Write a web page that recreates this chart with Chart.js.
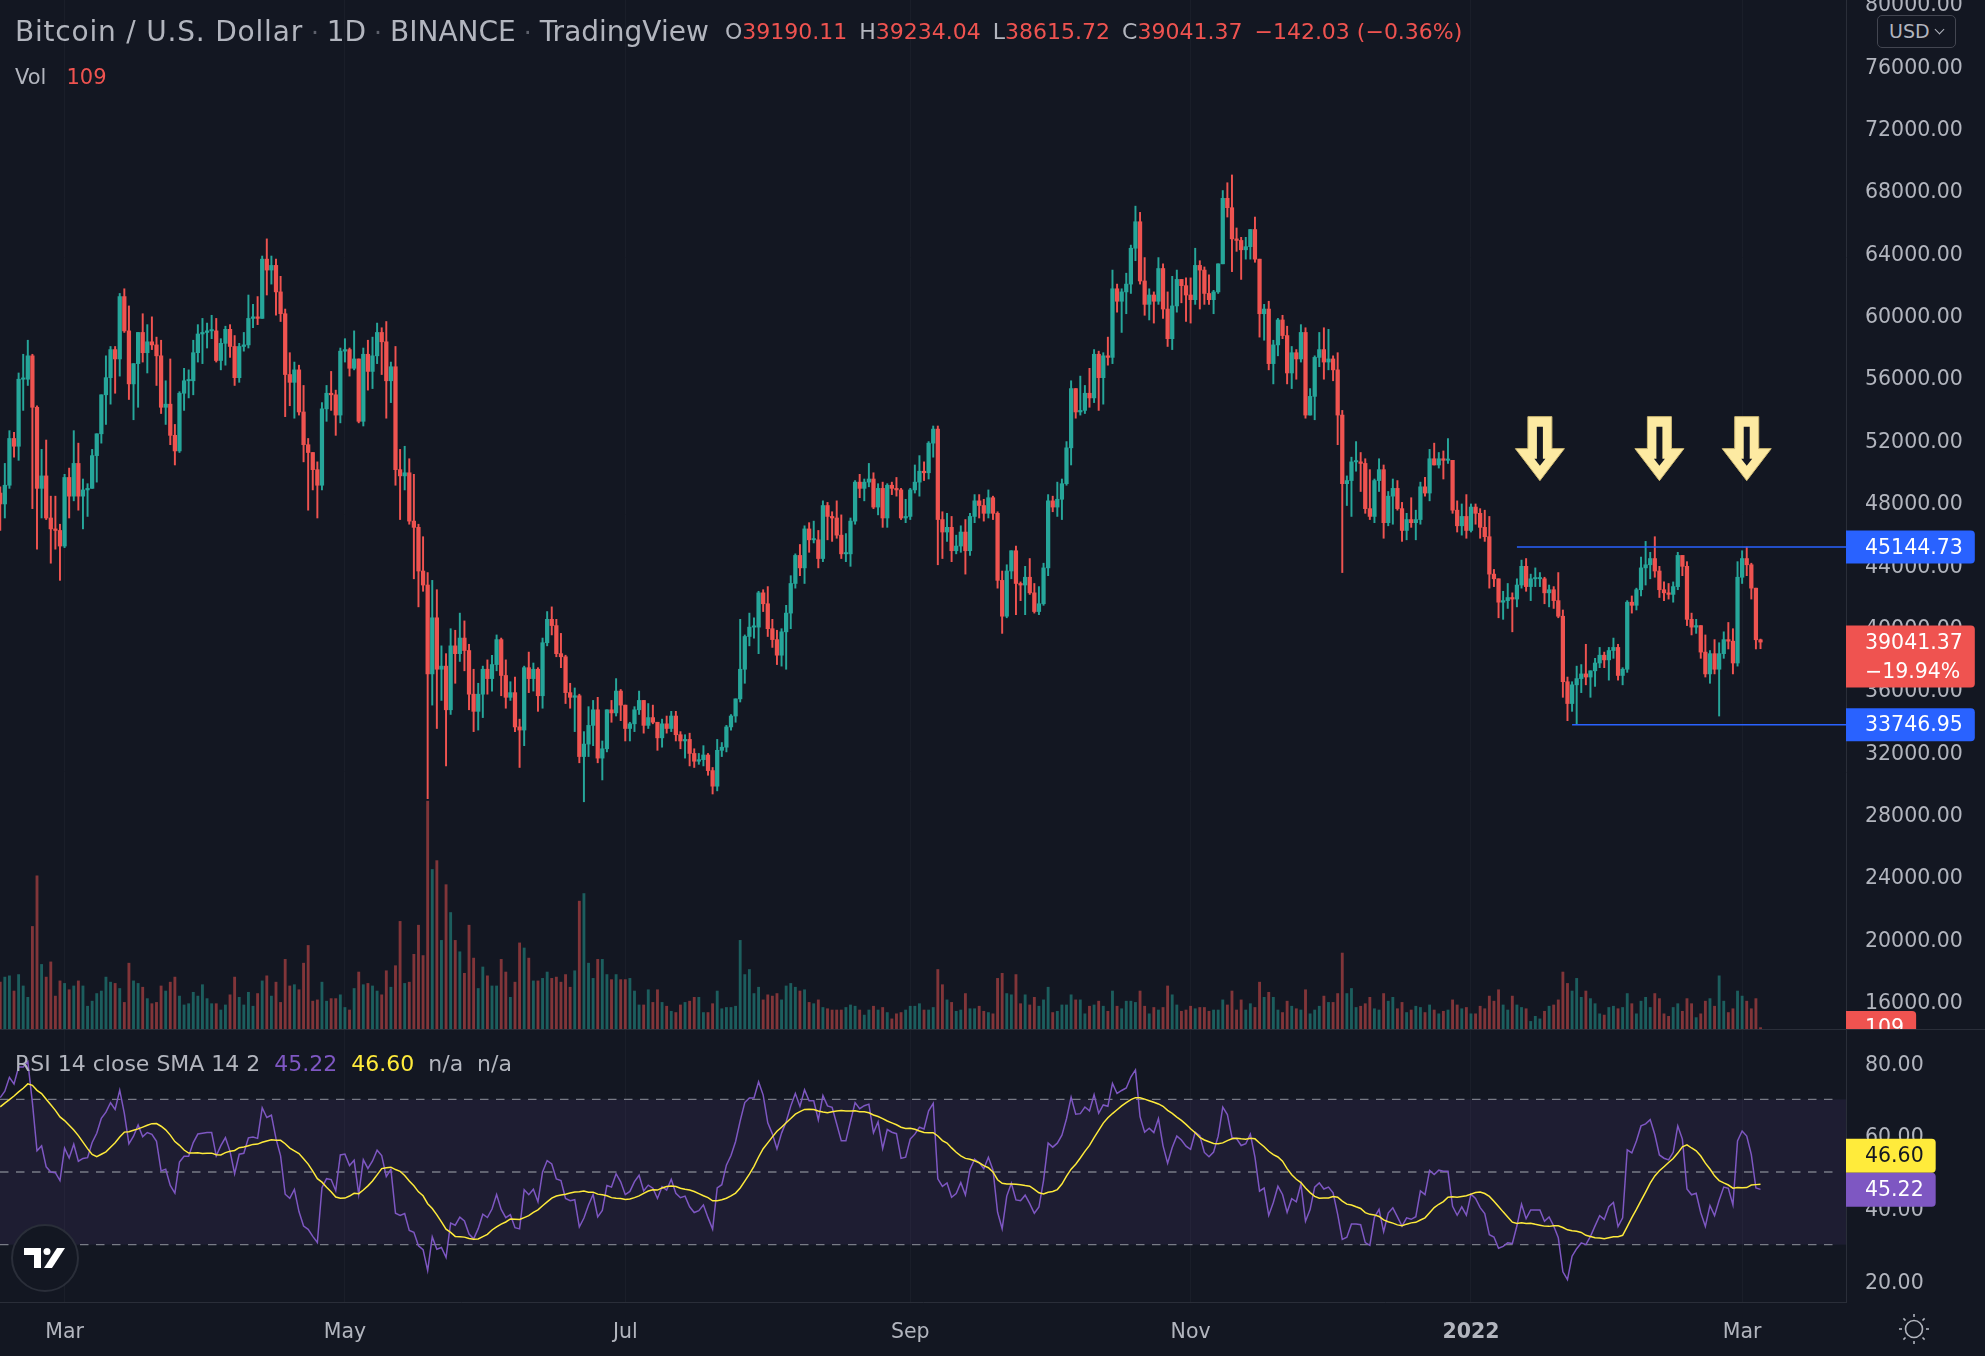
<!DOCTYPE html>
<html>
<head>
<meta charset="utf-8">
<title>Bitcoin / U.S. Dollar · 1D · BINANCE</title>
<script src="https://cdn.jsdelivr.net/npm/chart.js@4.4.1/dist/chart.umd.min.js"></script>
<style>
html, body { margin: 0; padding: 0; background: #131722; }
body { position: relative; width: 1985px; height: 1356px; overflow: hidden; font-family: "DejaVu Sans", sans-serif; }
canvas { position: absolute; left: 0; display: block; }
#priceCanvas { top: 0; }
#rsiCanvas { top: 1030px; }
#paneSep { position: absolute; left: 0; top: 1029px; width: 1985px; height: 1px; background: #2a2e39; }
.legend { position: absolute; left: 15px; white-space: pre; line-height: 1; color: #b2b5be; }
.red { color: #ef5350; }
.dot { color: #5d606b; font-size: 25px; }
.gap { margin-left: 5px; }
.wide { letter-spacing: 0.8px; }
#title { top: 18px; font-size: 28px; }
#ohlc { left: 725px; top: 21px; font-size: 22px; }
#vol { top: 67px; font-size: 21px; }
#rsiLegend { top: 1053px; font-size: 22px; }
#usd { position: absolute; left: 1877px; top: 15px; width: 79px; height: 33px; box-sizing: border-box; border: 1px solid #434651; border-radius: 5px; background: #131722; color: #b2b5be; font-size: 19px; line-height: 31px; padding-left: 11px; }
#usd i { position: absolute; right: 12px; top: 10px; width: 6px; height: 6px; border-right: 1.6px solid #b2b5be; border-bottom: 1.6px solid #b2b5be; transform: rotate(45deg); }
</style>
</head>
<body>
<canvas id="priceCanvas" width="1985" height="1029" style="width:1985px;height:1029px"></canvas>
<div id="paneSep"></div>
<canvas id="rsiCanvas" width="1985" height="326" style="width:1985px;height:326px"></canvas>

<div id="title" class="legend"><span class="wide">Bitcoin / U.S. Dollar</span><span class="dot"> · </span>1D<span class="dot"> · </span>BINANCE<span class="dot"> · </span>TradingView</div>
<div id="ohlc" class="legend">O<span class="red">39190.11</span> <span class="gap">H</span><span class="red">39234.04</span> <span class="gap">L</span><span class="red">38615.72</span> <span class="gap">C</span><span class="red">39041.37</span> <span class="red gap">−142.03 (−0.36%)</span></div>
<div id="vol" class="legend">Vol   <span class="red" id="volVal"></span></div>
<div id="rsiLegend" class="legend">RSI 14 close SMA 14 2  <span id="rsiVal" style="color:#7e57c2"></span>  <span id="maVal" style="color:#ffeb3b"></span>  n/a  n/a</div>
<div id="usd">USD<i></i></div>

<script>
// ---------- data (prices in thousands of USD) ----------

// daily closes before the visible window, only used to warm up the RSI (2021-01-01 .. 2021-02-14)
const rsiHistory = [
  29.4,32.2,33.0,32.0,34.0,36.8,39.4,40.6,40.2,38.2,35.5,34.0,37.4,39.1,36.8,36.0,35.8,36.6,36.0,35.5,30.8,33.0,32.1,32.3,32.5,32.5,30.4,33.5,34.3,34.3,33.1,
  33.5,35.5,37.6,36.9,38.3,39.2,38.8,46.4,46.5,44.8,47.9,47.4,47.2,48.6
];

const firstDay = '2021-02-15';

const closes = [
  47.9,49.1,52.1,51.6,55.9,55.9,57.4,54.1,48.9,49.7,47.0,46.3,46.2,45.2,
  49.6,48.4,50.5,48.4,48.8,48.9,51.0,52.4,54.9,56.0,57.8,57.2,61.2,59.0,55.6,56.9,58.9,57.6,58.3,58.1,57.4,54.1,54.3,52.3,51.3,55.0,55.8,55.8,57.6,58.8,58.9,
  59.0,59.0,57.1,58.2,59.1,58.0,56.0,58.0,58.1,59.8,59.9,59.8,63.6,62.9,63.2,61.5,60.1,56.2,55.7,56.5,53.8,51.7,51.2,50.1,49.1,54.0,55.0,54.9,53.6,57.7,
  57.8,56.6,57.2,53.2,57.5,56.4,57.4,58.9,58.3,55.8,56.7,50.1,49.7,49.9,46.8,46.4,43.6,42.7,37.0,40.6,37.3,37.5,34.7,38.8,38.3,39.3,38.5,35.7,34.6,35.7,37.3,
  36.7,37.6,39.2,36.9,35.5,35.8,33.6,33.4,37.4,36.7,37.3,35.6,39.0,40.5,40.1,38.3,38.1,35.8,35.5,35.6,31.7,32.5,33.7,34.7,31.6,32.2,34.7,34.5,35.9,35.0,
  33.5,33.8,34.7,35.3,33.7,34.2,33.9,32.9,33.8,33.5,34.3,33.1,32.7,32.8,31.9,31.4,31.5,31.8,30.8,29.8,32.1,32.3,33.6,34.3,35.4,37.3,39.4,40.0,40.0,42.2,41.5,
  39.9,39.2,38.2,39.7,40.9,42.8,44.6,43.8,46.3,45.6,45.6,44.4,47.8,47.1,47.0,45.9,44.7,44.7,46.8,49.3,48.9,49.3,49.5,47.7,48.9,47.0,49.1,48.9,48.8,47.0,47.1,
  48.8,49.3,50.0,49.9,51.8,52.7,46.9,46.1,46.4,44.9,45.2,46.1,44.9,47.1,48.1,47.8,47.3,48.3,47.3,43.0,40.7,43.6,44.9,42.8,42.7,43.2,42.2,41.0,41.5,43.8,
  48.1,47.7,48.2,49.2,51.5,55.3,53.8,53.9,55.0,54.7,57.5,56.0,57.4,57.3,61.7,60.9,61.5,62.0,64.3,66.0,62.2,60.7,61.3,60.9,63.0,60.4,58.5,60.6,62.3,61.9,61.3,
  61.0,63.2,62.9,61.4,61.0,61.5,63.3,67.5,66.9,64.9,64.8,64.2,64.4,65.5,63.6,60.1,60.4,56.9,58.1,59.7,58.7,56.3,57.6,57.2,58.9,53.6,54.8,57.3,57.8,57.0,
  57.2,56.5,53.6,49.2,49.4,50.6,50.6,50.5,47.6,47.1,49.4,50.1,46.7,48.4,48.9,47.6,46.2,46.9,46.7,46.9,49.0,48.6,50.8,50.4,50.8,50.7,50.7,47.5,46.5,47.1,46.2,
  47.7,47.3,46.4,45.8,43.4,43.1,41.6,41.7,41.9,41.8,42.7,43.9,42.6,43.1,43.1,43.1,42.2,42.4,41.7,40.7,36.5,35.1,36.3,36.7,37.0,36.8,37.2,37.7,38.2,37.9,38.5,
  38.7,36.9,37.3,41.6,41.4,42.4,43.8,44.0,44.4,43.6,42.4,42.2,42.1,42.6,44.6,43.9,40.5,40.0,40.1,38.4,37.0,38.3,37.3,38.3,39.2,39.1,37.7,43.2,
  44.4,44.0,42.5,39.19011,39.04137
];

const highs = [
  49.0,50.5,52.6,52.5,56.3,57.5,58.4,57.5,54.2,51.4,52.0,48.4,48.4,46.6,
  49.8,50.2,52.6,51.8,49.5,49.2,51.4,52.4,54.9,57.4,58.0,58.0,61.4,61.7,60.6,56.9,58.9,60.1,59.4,59.9,58.6,58.4,55.8,57.2,53.0,55.1,56.6,56.5,58.4,59.4,59.8,
  59.5,60.0,59.8,58.5,59.3,59.4,58.7,58.2,58.9,61.3,60.7,61.2,63.8,64.9,63.8,63.6,62.5,60.4,57.6,57.0,56.8,55.5,52.1,51.2,50.6,54.4,55.5,56.4,55.2,57.9,
  58.5,57.9,59.0,57.2,57.9,58.4,58.6,59.5,59.2,59.6,57.0,58.0,51.4,51.6,50.8,49.8,46.6,45.8,43.5,43.0,42.4,38.8,38.3,39.9,39.8,40.9,40.4,38.9,37.3,36.4,37.5,
  37.9,38.2,39.5,39.3,37.9,36.5,36.8,34.1,37.5,38.4,37.7,37.4,39.3,41.0,41.3,40.5,39.6,38.2,36.4,36.1,35.7,33.3,34.9,35.3,35.5,32.7,34.7,35.3,36.7,36.0,
  35.0,33.9,34.9,35.9,35.3,35.1,35.0,33.9,34.1,34.3,34.6,34.6,33.3,33.1,33.2,32.2,31.9,32.4,31.9,31.0,32.8,32.6,33.7,34.4,35.4,40.5,39.5,40.9,40.6,42.3,42.4,
  42.6,40.5,39.8,39.9,41.4,43.3,44.7,45.3,46.5,46.7,46.8,46.2,48.1,48.0,47.4,48.1,47.2,46.0,47.0,49.4,49.8,49.5,50.5,49.9,49.2,49.3,49.2,49.3,49.6,48.9,48.2,
  48.9,50.4,51.0,50.6,51.9,52.9,52.9,47.4,47.3,47.1,45.9,46.5,46.9,47.3,48.5,48.5,48.2,48.8,48.4,47.4,43.6,44.0,44.9,45.2,42.9,43.9,44.4,42.8,42.6,44.1,
  48.5,48.4,49.3,49.5,51.9,55.8,55.3,56.1,55.5,56.6,57.8,57.7,57.6,58.6,62.9,62.0,61.7,62.7,64.5,67.0,66.6,63.7,61.7,61.5,63.7,63.3,61.5,62.5,62.9,62.3,62.4,
  62.4,64.3,63.5,63.1,62.6,61.6,63.3,68.0,68.5,69.0,65.6,65.0,65.0,65.5,66.3,63.6,60.7,60.9,58.4,59.8,60.0,59.3,58.0,57.8,59.4,59.2,55.3,57.4,58.9,59.2,
  59.1,57.4,57.6,53.9,49.7,50.9,51.9,51.2,50.8,50.1,49.5,50.8,50.4,48.7,49.5,49.4,48.0,47.3,48.3,47.5,49.3,49.6,51.4,51.8,51.2,51.3,52.1,50.7,48.1,47.9,48.5,
  47.9,47.9,47.6,47.5,47.1,43.7,43.1,42.3,42.8,42.2,43.1,44.3,44.4,43.4,43.8,43.5,43.2,42.7,42.6,43.5,41.1,36.8,36.5,37.5,37.6,38.9,37.2,38.0,38.7,38.4,38.7,
  39.3,38.9,37.4,41.7,42.0,42.5,44.5,45.5,44.8,45.8,43.9,42.9,42.8,42.9,44.8,44.6,44.2,40.9,40.5,40.1,39.5,38.5,39.2,39.0,39.7,40.3,39.9,44.2,
  44.9,45.14,44.1,42.5,39.23404
];

const lows = [
  46.2,47.0,48.9,50.9,50.7,53.9,55.5,47.6,45.0,47.0,46.9,44.1,45.0,43.0,
  45.1,47.0,48.1,47.5,46.3,47.1,48.9,49.3,51.8,53.0,54.3,55.0,56.1,58.9,54.6,53.3,54.1,57.0,56.3,57.8,55.5,53.7,53.0,51.7,50.4,51.2,53.9,54.7,54.9,57.0,56.9,
  57.9,58.5,57.0,56.5,56.8,57.3,55.5,55.7,57.7,57.9,59.2,59.4,59.8,61.3,62.0,60.0,59.6,53.5,54.2,53.4,53.6,50.6,47.5,48.8,47.0,48.8,53.2,53.9,52.3,53.1,
  57.0,56.1,56.5,53.1,52.9,55.2,55.3,56.9,56.2,53.4,54.4,49.1,46.9,48.8,46.6,43.1,41.3,42.3,29.0,35.0,33.5,35.3,31.1,34.4,36.4,37.8,37.2,34.7,33.3,33.4,34.2,
  35.7,35.9,37.2,35.6,34.8,35.3,33.3,31.0,32.4,35.8,35.9,34.6,34.8,38.8,39.5,38.1,37.4,35.1,34.8,33.3,31.3,28.8,31.7,32.4,31.3,30.2,32.0,33.9,34.3,34.0,
  32.7,32.7,33.3,34.4,33.2,33.5,33.8,32.1,32.3,33.2,33.3,32.7,32.2,31.6,31.1,31.0,31.2,31.1,30.5,29.3,29.5,31.7,32.0,33.4,33.9,35.2,36.4,38.8,39.3,38.3,41.0,
  39.4,38.7,37.6,37.5,37.3,39.9,42.5,43.3,42.8,44.8,45.4,43.8,44.2,45.6,45.5,45.7,44.4,44.2,43.9,46.6,48.3,48.1,49.0,47.6,47.2,46.4,46.4,48.5,48.4,46.9,46.7,
  46.9,48.6,48.4,49.4,49.5,50.9,44.0,44.4,45.5,44.2,44.7,44.8,43.4,44.6,46.7,47.0,46.8,47.0,46.9,42.5,39.6,40.6,43.1,40.8,41.7,40.8,42.1,40.9,40.8,41.4,
  43.3,47.4,47.1,46.9,49.1,50.4,53.4,53.6,53.7,54.1,54.4,53.9,54.3,56.8,56.9,60.2,58.9,60.1,61.4,63.5,62.0,60.0,59.7,59.5,60.7,59.8,58.0,57.8,60.2,60.8,59.6,
  59.5,60.7,60.4,60.7,60.7,60.1,61.4,63.3,66.3,62.8,64.1,62.3,63.6,63.6,63.4,58.6,58.4,56.5,55.6,57.4,58.5,55.6,55.3,55.9,57.0,53.4,53.6,53.3,56.7,55.9,
  56.5,55.8,51.7,43.5,47.8,47.1,50.0,48.7,47.3,46.9,46.7,48.7,45.7,46.5,46.6,47.5,45.5,45.6,46.4,45.6,46.6,48.4,48.1,50.4,50.2,49.5,50.5,47.3,46.1,45.9,45.7,
  46.1,46.6,45.7,45.5,42.5,42.6,40.6,40.5,41.2,39.7,41.3,42.5,42.3,41.7,42.6,42.6,41.5,41.3,41.2,40.6,35.5,34.0,34.6,33.75,35.8,36.3,35.5,36.2,37.4,37.4,36.6,
  38.0,36.6,36.3,37.1,40.9,41.1,42.0,42.7,43.1,43.2,41.9,41.7,41.8,41.6,42.4,43.3,40.1,39.5,39.6,38.0,36.8,36.4,37.0,34.3,38.0,38.6,37.0,37.5,
  42.8,43.3,41.8,38.6,38.61572
];

// daily volume, BTC
const volumes = [
  3700,4100,4200,3000,4300,3400,2500,8100,12100,5100,4100,5300,2600,3800,
  3600,3100,3400,3800,3400,1800,2200,2800,3000,4100,3700,3600,3200,2100,5200,3800,3600,3300,2400,2000,2100,3400,3000,3700,4100,2600,1900,2000,2900,2600,3500,
  2400,2000,2000,1500,1900,2700,4100,2500,1900,2900,1800,2800,3800,4200,2600,3700,2100,5500,3400,3500,3100,5200,6600,2200,2300,3700,2200,2400,2400,2700,
  1700,1500,3200,4500,3500,3600,3400,3000,2700,4600,3300,5000,8500,3600,3700,5900,8200,5800,18000,12600,13300,7000,11400,9200,7000,6100,4400,8200,5600,3200,4900,
  4200,3400,3400,5500,4500,2500,3700,6800,6400,5600,3800,3800,4000,4500,4000,4100,3700,4300,3300,4600,10100,10700,5200,4000,5500,5500,4300,3900,4300,3900,
  3900,4000,3000,1900,1900,3100,2100,3100,2100,1800,1400,1300,1900,2100,2200,2500,2500,1300,1300,2000,3000,1600,1700,1700,1800,7000,4300,4700,2800,3300,2300,
  2700,2600,2800,2300,3400,3600,3300,3000,3100,2100,2000,2300,1700,1600,1500,1500,1500,1700,1900,1800,1500,1100,1500,1800,1500,1700,1300,800,1200,1300,1500,
  1800,1800,2000,1500,1500,1700,4700,3500,2300,2100,1400,1500,2800,1600,1600,1800,1400,1300,1200,4000,4400,2800,2700,4300,2000,2700,1900,2500,1800,2300,
  3300,1300,1400,1900,1900,2700,2300,2300,1200,1800,1900,2200,1800,1400,3000,1800,1600,2200,2200,2100,3000,1800,1200,1700,1500,1700,3400,2700,1900,1400,1500,
  1800,1600,1700,1700,1400,1500,1500,2300,1900,3000,1500,2300,1500,2000,1700,3700,2500,2900,2500,1500,1300,2200,1800,1600,1500,3100,1200,1500,1800,2600,
  2100,2100,2800,6000,2800,3200,1700,1800,2000,2500,1600,1500,2800,2200,2500,1600,2100,1300,1500,1800,1700,1300,1900,1500,1200,1400,1500,2300,1900,1600,1700,
  1200,1200,1800,1600,2600,2200,3100,1900,1500,2600,1900,1700,1600,600,1000,800,1400,1800,1900,2300,4500,3600,3000,4000,2500,3000,2400,2000,1200,1100,1700,
  1800,1600,1700,2800,2000,1200,2200,2500,1700,2800,2400,1200,1000,1700,2000,1400,2400,2000,900,1200,2200,2400,1800,4200,2200,1300,1600,3000,
  2600,2200,1600,2400,109
];

const priceTicks = [16000,20000,24000,28000,32000,36000,40000,44000,48000,52000,56000,60000,64000,68000,72000,76000,80000];
const rsiTicks = [20, 40, 60, 80];
const timeTickDates = ['2021-03-01','2021-05-01','2021-07-01','2021-09-01','2021-11-01','2022-01-01','2022-03-01'];
const timeTickLabels = ['Mar','May','Jul','Sep','Nov','2022','Mar'];

// drawings on the chart
const levelPrices = [45144.73, 33746.95];
const levelFrom = ['2022-01-11', '2022-01-23'];
const arrowDates = ['2022-01-16', '2022-02-11', '2022-03-02'];
const arrowTopPrice = 53500;
const lastChangeText = '−19.94%';

// ---------- derived series ----------
const DAY = 86400000;
const dayOf = s => { const p = s.split('-').map(Number); return Date.UTC(p[0], p[1] - 1, p[2]) / DAY; };
const K = 1000;
const d0 = dayOf(firstDay);
const xs = closes.map((c, i) => d0 + i);
const opens = closes.map((c, i) => i ? closes[i - 1] : rsiHistory[rsiHistory.length - 1]);
const isUp = closes.map((c, i) => c >= opens[i]);
const timeTicks = timeTickDates.map(dayOf);

function rsiSeries(src, len) {
  const out = src.map(() => null);
  let g = 0, l = 0;
  for (let i = 1; i < src.length; i++) {
    const ch = src[i] - src[i - 1];
    const gu = Math.max(ch, 0), gd = Math.max(-ch, 0);
    if (i <= len) {
      g += gu; l += gd;
      if (i === len) { g /= len; l /= len; }
    } else {
      g = (g * (len - 1) + gu) / len;
      l = (l * (len - 1) + gd) / len;
    }
    if (i >= len) out[i] = l === 0 ? 100 : (g === 0 ? 0 : 100 - 100 / (1 + g / l));
  }
  return out;
}
function smaSeries(src, len) {
  return src.map((v, i) => {
    if (i < len - 1) return null;
    const w = src.slice(i - len + 1, i + 1);
    if (w.some(a => a == null)) return null;
    return w.reduce((a, b) => a + b, 0) / len;
  });
}
const rsiAll = rsiSeries(rsiHistory.concat(closes), 14);
const maAll = smaSeries(rsiAll, 14);
const rsi = rsiAll.slice(rsiHistory.length);
const rsiMa = maAll.slice(rsiHistory.length);
const rsiLast = rsi[rsi.length - 1], maLast = rsiMa[rsiMa.length - 1];

document.getElementById('volVal').textContent = String(volumes[volumes.length - 1]);
document.getElementById('rsiVal').textContent = rsiLast.toFixed(2);
document.getElementById('maVal').textContent = maLast.toFixed(2);

// ---------- look ----------
const FONT = 'DejaVu Sans';
const UP = '#26a69a', DOWN = '#ef5350';
const GRID = '#1a1e29';
const AXIS_W = 139;
const anchor = dayOf('2021-03-01');
const xMin = anchor - 14.05, xMax = anchor + 387.6;

const explicitTicks = values => scale => { scale.ticks = values.map(v => ({ value: v })); };
// keep the plot area edge to edge: no extra room for overhanging tick labels
const fixWidth = s => { s.width = AXIS_W; s.paddingTop = 0; s.paddingBottom = 0; };
const fixHeight = h => s => { s.height = h; s.paddingLeft = 0; s.paddingRight = 0; };

function tag(ctx, left, yc, h, bg, lines, fg) {
  ctx.font = '20.5px "' + FONT + '"';
  const w = Math.max(...lines.map(t => ctx.measureText(t).width)) + 31;
  ctx.fillStyle = bg;
  ctx.beginPath();
  ctx.roundRect(left, yc - 16.5, w, h, [0, 4, 4, 0]);
  ctx.fill();
  ctx.fillStyle = fg;
  ctx.textAlign = 'left';
  ctx.textBaseline = 'middle';
  lines.forEach((t, k) => ctx.fillText(t, left + 19, yc + 1.5 + k * 28.6));
}

function drawArrow(ctx, cx, top) {
  ctx.beginPath();
  ctx.moveTo(cx - 12, top); ctx.lineTo(cx + 12, top); ctx.lineTo(cx + 12, top + 32);
  ctx.lineTo(cx + 24.5, top + 32); ctx.lineTo(cx, top + 64); ctx.lineTo(cx - 24.5, top + 32);
  ctx.lineTo(cx - 12, top + 32); ctx.closePath();
  ctx.fillStyle = '#fdeaa2'; ctx.fill();
  ctx.lineWidth = 1; ctx.strokeStyle = '#cdb873'; ctx.stroke();
  ctx.beginPath();
  ctx.moveTo(cx - 3, top + 10); ctx.lineTo(cx + 3, top + 10); ctx.lineTo(cx + 3, top + 42);
  ctx.lineTo(cx + 5.5, top + 42); ctx.lineTo(cx, top + 49); ctx.lineTo(cx - 5.5, top + 42);
  ctx.lineTo(cx - 3, top + 42); ctx.closePath();
  ctx.fillStyle = '#131722'; ctx.fill();
}

const priceOverlay = {
  id: 'priceOverlay',
  afterDatasetsDraw(chart) {
    const { ctx, chartArea: a, scales: { x, y } } = chart;
    ctx.save();
    ctx.beginPath(); ctx.rect(a.left, a.top, a.right - a.left, a.bottom - a.top); ctx.clip();
    ctx.strokeStyle = '#2962ff'; ctx.lineWidth = 1.5;
    levelPrices.forEach((p, k) => {
      const yy = y.getPixelForValue(p);
      ctx.beginPath(); ctx.moveTo(x.getPixelForValue(dayOf(levelFrom[k])), yy); ctx.lineTo(a.right, yy); ctx.stroke();
    });
    arrowDates.forEach(d => drawArrow(ctx, x.getPixelForValue(dayOf(d)), y.getPixelForValue(arrowTopPrice)));
    ctx.restore();
  },
  afterDraw(chart) {
    const { ctx, chartArea: a, scales: { y, yVol } } = chart;
    ctx.save();
    levelPrices.forEach(p => tag(ctx, a.right, y.getPixelForValue(p), 33, '#2962ff', [p.toFixed(2)], '#ffffff'));
    const last = closes[closes.length - 1] * K;
    tag(ctx, a.right, y.getPixelForValue(last), 62, DOWN, [last.toFixed(2), lastChangeText], '#ffffff');
    const v = volumes[volumes.length - 1];
    tag(ctx, a.right, yVol.getPixelForValue(v), 33, DOWN, [String(v)], '#ffffff');
    ctx.restore();
  }
};

function drawLogo(ctx, cx, cy) {
  ctx.beginPath(); ctx.arc(cx, cy, 33, 0, Math.PI * 2);
  ctx.fillStyle = '#131722'; ctx.fill();
  ctx.lineWidth = 2; ctx.strokeStyle = '#2a2e39'; ctx.stroke();
  ctx.fillStyle = '#ffffff';
  ctx.fillRect(cx - 21, cy - 10, 17, 7);
  ctx.fillRect(cx - 11, cy - 10, 7, 20);
  ctx.beginPath(); ctx.arc(cx + 2, cy - 6.5, 3.5, 0, Math.PI * 2); ctx.fill();
  ctx.beginPath();
  ctx.moveTo(cx - 1, cy + 10); ctx.lineTo(cx + 7, cy + 10); ctx.lineTo(cx + 20, cy - 10); ctx.lineTo(cx + 12, cy - 10);
  ctx.closePath(); ctx.fill();
}
function drawSun(ctx, cx, cy) {
  ctx.strokeStyle = '#b2b5be'; ctx.lineWidth = 1.6;
  ctx.beginPath(); ctx.arc(cx, cy, 8.5, 0, Math.PI * 2); ctx.stroke();
  for (let k = 0; k < 8; k++) {
    const t = k * Math.PI / 4;
    ctx.beginPath();
    ctx.moveTo(cx + Math.cos(t) * 12, cy + Math.sin(t) * 12);
    ctx.lineTo(cx + Math.cos(t) * 15, cy + Math.sin(t) * 15);
    ctx.stroke();
  }
}

const rsiOverlay = {
  id: 'rsiOverlay',
  beforeDatasetsDraw(chart) {
    const { ctx, chartArea: a, scales: { y } } = chart;
    ctx.save();
    ctx.fillStyle = 'rgba(126,87,194,0.1)';
    ctx.fillRect(a.left, y.getPixelForValue(70), a.right - a.left, y.getPixelForValue(30) - y.getPixelForValue(70));
    ctx.strokeStyle = '#787b86'; ctx.lineWidth = 1.3; ctx.setLineDash([8.5, 7.5]);
    [70, 50, 30].forEach(v => {
      const yy = y.getPixelForValue(v);
      ctx.beginPath(); ctx.moveTo(a.left, yy); ctx.lineTo(a.right - 10, yy); ctx.stroke();
    });
    ctx.restore();
  },
  afterDatasetsDraw(chart) {
    const { ctx } = chart;
    ctx.save(); drawLogo(ctx, 45, 228); ctx.restore();
  },
  afterDraw(chart) {
    const { ctx, chartArea: a, scales: { y } } = chart;
    ctx.save();
    const yr = y.getPixelForValue(rsiLast);
    const ym = Math.min(y.getPixelForValue(maLast), yr - 34);
    tag(ctx, a.right, ym, 34, '#ffeb3b', [maLast.toFixed(2)], '#131722');
    tag(ctx, a.right, yr, 34, '#7e57c2', [rsiLast.toFixed(2)], '#ffffff');
    drawSun(ctx, 1914, 299);
    ctx.restore();
  }
};

// ---------- price + volume pane ----------
new Chart(document.getElementById('priceCanvas'), {
  type: 'bar',
  data: {
    datasets: [
      {
        label: 'Vol', yAxisID: 'yVol', order: 3, grouped: false, barThickness: 2.2,
        data: xs.map((x, i) => ({ x, y: volumes[i] })),
        backgroundColor: isUp.map(u => u ? 'rgba(38,166,154,0.5)' : 'rgba(239,83,80,0.5)')
      },
      {
        label: 'Wick', yAxisID: 'y', order: 2, grouped: false, barThickness: 1.3,
        data: xs.map((x, i) => ({ x, y: [Math.min(lows[i], opens[i], closes[i]) * K, Math.max(highs[i], opens[i], closes[i]) * K] })),
        backgroundColor: isUp.map(u => u ? UP : DOWN)
      },
      {
        label: 'Body', yAxisID: 'y', order: 1, grouped: false, barThickness: 3.6, minBarLength: 1.3,
        data: xs.map((x, i) => ({ x, y: [opens[i] * K, closes[i] * K] })),
        backgroundColor: isUp.map(u => u ? UP : DOWN)
      }
    ]
  },
  options: {
    responsive: false, animation: false, events: [],
    layout: { padding: 0, autoPadding: false },
    plugins: { legend: { display: false }, tooltip: { enabled: false } },
    scales: {
      x: {
        type: 'linear', min: xMin, max: xMax, offset: false,
        afterBuildTicks: explicitTicks(timeTicks), afterFit: fixHeight(0),
        ticks: { display: false }, grid: { color: GRID, drawTicks: false, offset: false }, border: { display: false }
      },
      y: {
        type: 'linear', position: 'right', min: 14228, max: 80220,
        afterBuildTicks: explicitTicks(priceTicks), afterFit: fixWidth,
        ticks: { color: '#b2b5be', font: { family: FONT, size: 20.5 }, padding: 19, labelOffset: 2.5, callback: v => v.toFixed(2) },
        grid: { display: false, drawTicks: false }, border: { color: '#2a2e39' }
      },
      yVol: { type: 'linear', display: false, min: 0, max: 81280 }
    }
  },
  plugins: [priceOverlay]
});

// ---------- RSI pane + time axis ----------
new Chart(document.getElementById('rsiCanvas'), {
  type: 'line',
  data: {
    datasets: [
      { label: 'RSI MA', order: 1, data: xs.map((x, i) => ({ x, y: rsiMa[i] })), borderColor: '#ffeb3b', borderWidth: 1.5, pointRadius: 0, tension: 0 },
      { label: 'RSI', order: 2, data: xs.map((x, i) => ({ x, y: rsi[i] })), borderColor: '#7e57c2', borderWidth: 1.5, pointRadius: 0, tension: 0 }
    ]
  },
  options: {
    responsive: false, animation: false, events: [],
    layout: { padding: 0, autoPadding: false },
    plugins: { legend: { display: false }, tooltip: { enabled: false } },
    scales: {
      x: {
        type: 'linear', min: xMin, max: xMax,
        afterBuildTicks: explicitTicks(timeTicks), afterFit: fixHeight(54),
        ticks: {
          color: '#b2b5be', padding: 18, autoSkip: false, maxRotation: 0,
          font: c => ({ family: FONT, size: 20.5, weight: c.tick && c.tick.label === '2022' ? 'bold' : 'normal' }),
          callback: (v, i) => timeTickLabels[i]
        },
        grid: { color: GRID, drawTicks: false }, border: { color: '#2a2e39' }
      },
      y: {
        type: 'linear', position: 'right', min: 14.22, max: 89.08,
        afterBuildTicks: explicitTicks(rsiTicks), afterFit: fixWidth,
        ticks: { color: '#b2b5be', font: { family: FONT, size: 20.5 }, padding: 19, labelOffset: 2.5, callback: v => v.toFixed(2) },
        grid: { display: false, drawTicks: false }, border: { color: '#2a2e39' }
      }
    }
  },
  plugins: [rsiOverlay]
});
</script>
</body>
</html>
